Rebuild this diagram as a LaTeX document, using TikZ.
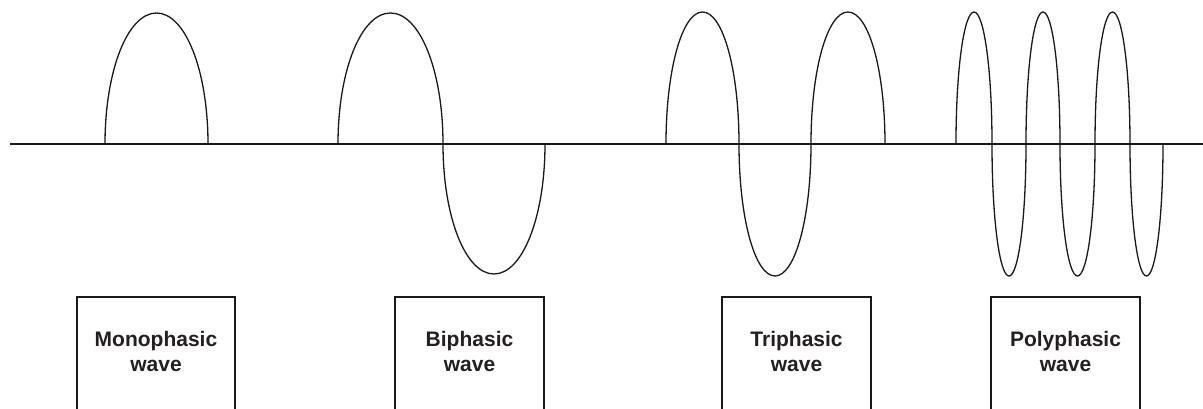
\documentclass[tikz,border=0pt]{standalone}
\usepackage{fontspec}
\setmainfont{Liberation Sans}
\definecolor{WaveClr}{rgb}{0.1,0.1,0.1}
\definecolor{TextClr}{rgb}{0.14,0.12,0.13}

\begin{document}
\begin{tikzpicture}[x=1pt,y=-1pt,
  wave/.style={line width=1.3pt,color=WaveClr,line cap=round},
  phasebox/.style={line width=1.4pt,color=WaveClr},
  phasetext/.style={font=\bfseries\fontsize{21}{25}\selectfont,color=TextClr,align=center,inner sep=0pt}]
\useasboundingbox (0,0) rectangle (1203,409);

% zero line
\coordinate (L) at (10,144);
\coordinate (R) at (1203,144);
\draw[line width=1.6pt,color=WaveClr] (L) -- (R);

% half waves: start/end/peak
\foreach \a/\b/\p in {105/208/13, 338/443/13, 443/545/274,
    666/739/12, 739/811/276, 811/885/12,
    956/992/12, 992/1026/276, 1026/1060/12, 1060/1095/276, 1095/1130/12, 1130/1163/276}{
  \pgfmathsetmacro{\m}{(\a+\b)/2}
  \pgfmathsetmacro{\w}{(\b-\a)/2*0.56}
  \pgfmathsetmacro{\v}{144+(\p-144)*0.56}
  \draw[wave] (\a,144) .. controls (\a,\v) and (\m-\w,\p) .. (\m,\p)
     .. controls (\m+\w,\p) and (\b,\v) .. (\b,144);
}

% boxes, open at the bottom
\foreach \l/\r in {77/235, 395/544, 722/871, 991/1140}
  \draw[phasebox] (\l,409) |- (\r,297) -- (\r,409);

\node[phasetext] (mono) at (156,351) {Monophasic\\wave};
\node[phasetext] (bi) at (469.5,351) {Biphasic\\wave};
\node[phasetext] (tri) at (796.5,351) {Triphasic\\wave};
\node[phasetext] (poly) at (1065.5,351) {Polyphasic\\wave};

\end{tikzpicture}
\end{document}
